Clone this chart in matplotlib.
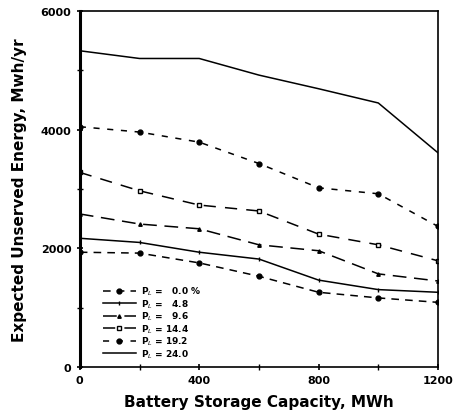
import matplotlib.pyplot as plt
import numpy as np

capacity = [0, 200, 400, 600, 800, 1000, 1200]

pl_levels = ["0.0", "4.8", "9.6", "14.4", "19.2", "24.0"]

eue_pl00 = [1935, 1920, 1755, 1530, 1260, 1165, 1090]
eue_pl48 = [2170, 2100, 1935, 1820, 1465, 1305, 1260]
eue_pl96 = [2580, 2410, 2330, 2060, 1960, 1570, 1450]
eue_pl144 = [3280, 2970, 2730, 2630, 2240, 2060, 1790]
eue_pl192 = [4050, 3960, 3790, 3430, 3020, 2920, 2370]
eue_pl240 = [5330, 5200, 5200, 4920, 4690, 4450, 3610]

series = [eue_pl00, eue_pl48, eue_pl96, eue_pl144, eue_pl192, eue_pl240]
styles = [
    dict(linestyle=(0, (5, 4)), marker="o", markersize=3.5),
    dict(linestyle="-", marker="|", markersize=3.5),
    dict(linestyle=(0, (9, 5)), marker="^", markersize=2.5),
    dict(linestyle=(0, (8, 6)), marker="s", markersize=2.5, markerfacecolor="white"),
    dict(linestyle=(0, (4, 5)), marker="o", markersize=3.5),
    dict(linestyle="-", marker=None),
]

plt.rcParams["font.family"] = "DejaVu Sans"

fig = plt.figure(figsize=(4.64, 4.14), dpi=100)
ax = fig.add_axes([0.172, 0.111, 0.772, 0.860])

for vals, st, pl in zip(series, styles, pl_levels):
    label = "P$_L$ = " + pl.rjust(4, "\u2007") + (" %" if pl == "0.0" else "")
    ax.plot(capacity, vals, color="black", linewidth=1.1, label=label, **st)

ax.set_xlim(0, 1200)
ax.set_ylim(0, 6000)
ax.set_xticks([0, 400, 800, 1200])
ax.set_xticks([200, 600, 1000], minor=True)
ax.set_yticks([0, 2000, 4000, 6000])
ax.set_yticks([1000, 3000, 5000], minor=True)
ax.tick_params(axis="both", which="major", labelsize=8, length=5, width=1.2,
               direction="inout")
ax.tick_params(axis="both", which="minor", length=4, width=1, direction="inout")
for lab in ax.get_xticklabels() + ax.get_yticklabels():
    lab.set_fontweight("bold")

for side in ["top", "right", "bottom"]:
    ax.spines[side].set_linewidth(1.2)
ax.spines["left"].set_linewidth(2.2)

ax.set_xlabel("Battery Storage Capacity, MWh", fontsize=11, fontweight="bold",
              labelpad=6)
ax.set_ylabel("Expected Unserved Energy, Mwh/yr", fontsize=11,
              fontweight="bold", labelpad=10)

ax.legend(loc="lower left", bbox_to_anchor=(0.045, 0.0), frameon=False,
          handlelength=3.6, handletextpad=0.6, labelspacing=0.0,
          borderpad=0.3, prop={"weight": "bold", "size": 6.5})

fig.savefig("out.png", dpi=100)
